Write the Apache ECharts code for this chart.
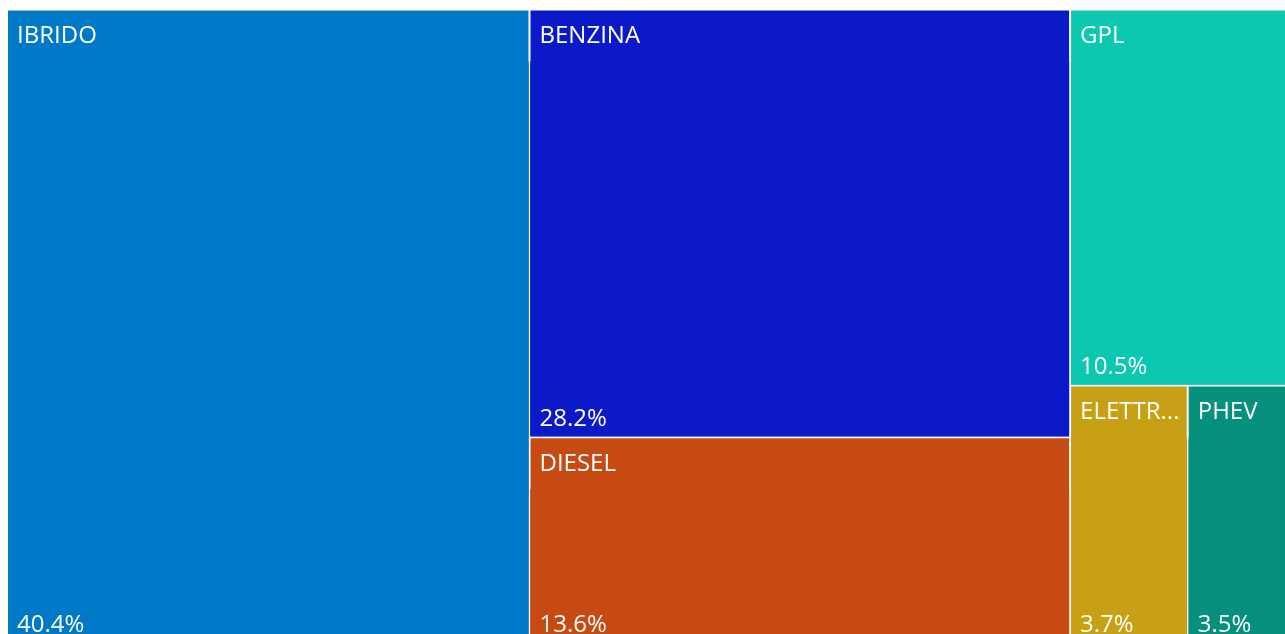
<!DOCTYPE html>
<html>
<head>
<meta charset="utf-8">
<script src="https://cdn.jsdelivr.net/npm/echarts@6/dist/echarts.min.js"></script>
<style>
html,body{margin:0;padding:0;background:#fff;}
#chart{width:1285px;height:634px;}
</style>
</head>
<body>
<div id="chart"></div>
<script>
const categories = ['IBRIDO', 'BENZINA', 'DIESEL', 'GPL', 'ELETTRICO', 'PHEV'];
const values = [40.4, 28.2, 13.6, 10.5, 3.7, 3.5];
const colors = ['#0079C9', '#0B19C8', '#C74A13', '#0CC8B1', '#C8A013', '#07907B'];

const FONT = '"Open Sans", "Noto Sans", sans-serif';

const data = categories.map((name, i) => ({
  name: name,
  value: values[i],
  itemStyle: { color: colors[i], borderColor: colors[i] },
  children: [{
    name: values[i].toFixed(1) + '%',
    value: values[i],
    itemStyle: { color: colors[i], borderColor: colors[i] }
  }]
}));

const chart = echarts.init(document.getElementById('chart'));
chart.setOption({
  animation: false,
  series: [{
    type: 'treemap',
    left: 8,
    top: 10.5,
    width: 1290,
    height: 632,
    roam: false,
    nodeClick: false,
    breadcrumb: { show: false },
    squareRatio: 0.5 * (1 + Math.sqrt(5)),
    data: data,
    levels: [
      { itemStyle: { gapWidth: 2, borderWidth: 0, borderColor: '#fff' } },
      {
        itemStyle: { gapWidth: 0, borderWidth: 0 },
        upperLabel: {
          show: true,
          height: 51,
          position: 'insideLeft',
          distance: 9,
          padding: [0, 15, 0, 0],
          color: '#fff',
          fontSize: 24,
          fontFamily: FONT,
          overflow: 'truncate',
          ellipsis: '...'
        }
      },
      {
        itemStyle: { gapWidth: 0, borderWidth: 0 },
        label: {
          show: true,
          position: 'insideBottomLeft',
          distance: 4,
          offset: [0, 4],
          color: '#fff',
          fontSize: 24,
          fontFamily: FONT
        }
      }
    ]
  }]
});
</script>
</body>
</html>
